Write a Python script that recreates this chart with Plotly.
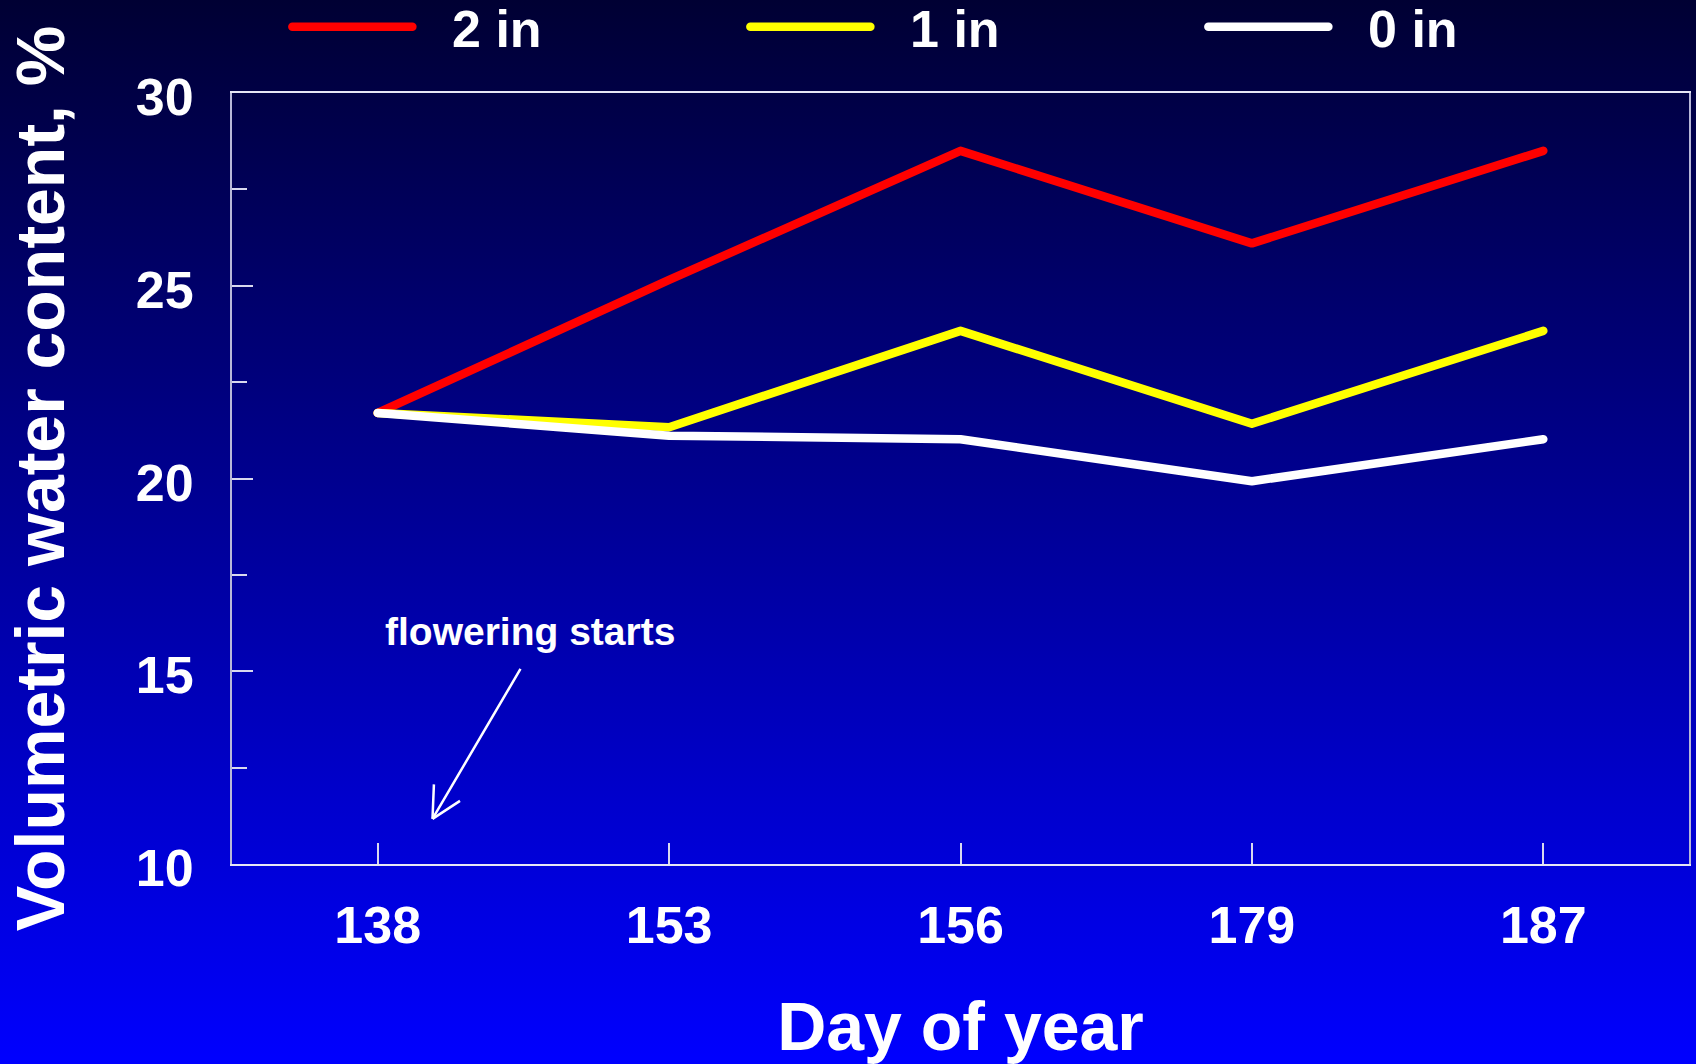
import base64
import plotly.graph_objects as go

# ---- data ----
days = ["138", "153", "156", "179", "187"]
vwc_2in = [21.7, 25.15, 28.5, 26.1, 28.5]
vwc_1in = [21.7, 21.33, 23.83, 21.42, 23.83]
vwc_0in = [21.7, 21.11, 21.02, 19.93, 21.02]
series_names = ["2 in", "1 in", "0 in"]
series_colors = ["#FF0000", "#FFFF00", "#FFFFFF"]

W, H = 1696, 1064
ML, MR, MT, MB = 232, 7, 93, 200
PW, PH = W - ML - MR, H - MT - MB

FONT = "Liberation Sans, Arial, Helvetica, sans-serif"

fig = go.Figure()
for name, vals, col in zip(series_names, [vwc_2in, vwc_1in, vwc_0in], series_colors):
    fig.add_trace(go.Scatter(
        x=days, y=vals, name="\u2002\u2006" + name, mode="lines",
        line=dict(color=col, width=8.5),
    ))

# gradient background as an SVG image
svg = (
    f'<svg xmlns="http://www.w3.org/2000/svg" width="{W}" height="{H}" preserveAspectRatio="none">'
    '<defs><linearGradient id="g" x1="0" y1="0" x2="0" y2="1">'
    '<stop offset="0" stop-color="#000033"/><stop offset="1" stop-color="#0000FF"/>'
    '</linearGradient></defs>'
    f'<rect width="{W}" height="{H}" fill="url(#g)"/></svg>'
)
src = "data:image/svg+xml;base64," + base64.b64encode(svg.encode()).decode()
fig.add_layout_image(dict(
    source=src, xref="paper", yref="paper",
    x=-ML / PW, y=1 + MT / PH, sizex=W / PW, sizey=H / PH,
    xanchor="left", yanchor="top", sizing="stretch", layer="below",
))

axis_font = dict(family=FONT, size=52, color="white", weight="bold")
title_font = dict(family=FONT, size=68, color="white", weight="bold")

fig.update_xaxes(
    type="category", range=[-0.5, 4.5],
    showgrid=False, zeroline=False,
    showline=True, mirror=True, linecolor="#E6E6F5", linewidth=2,
    ticks="inside", ticklen=21, tickwidth=1.5, tickcolor="#D8D8EE",
    tickfont=axis_font, ticklabelstandoff=15,
    title=dict(text="Day of year", font=title_font, standoff=49),
)
fig.update_yaxes(
    range=[10, 30], dtick=5,
    showgrid=False, zeroline=False,
    showline=True, mirror=True, linecolor="#B8B8D8", linewidth=2,
    ticks="inside", ticklen=21, tickwidth=1.5, tickcolor="#D8D8EE",
    minor=dict(dtick=2.5, ticks="inside", ticklen=15, tickwidth=1.5, tickcolor="#D8D8EE"),
    tickfont=axis_font, ticklabelstandoff=26, ticklabelshift=4,
    title=dict(text="Volumetric water content, %", font=title_font, standoff=49),
)

# "flowering starts" label and open arrow
fig.add_annotation(
    x=0.188, y=11.17, ax=0.493, ay=15.1, xref="x", yref="y", axref="x", ayref="y",
    text="", showarrow=True, arrowhead=0, arrowwidth=2.5, arrowcolor="white", standoff=0,
)
for dx, dy in [(29, -19), (1.5, -36)]:
    fig.add_annotation(
        x=0.188, y=11.17, ax=dx, ay=dy, xref="x", yref="y",
        text="", showarrow=True, arrowhead=0, arrowwidth=2.5, arrowcolor="white", standoff=0,
    )
fig.add_annotation(
    x=0.521, y=16.02, xref="x", yref="y", text="flowering starts", showarrow=False,
    font=dict(family=FONT, size=39, color="white", weight="bold"),
)

fig.update_layout(
    width=W, height=H,
    margin=dict(l=ML, r=MR, t=MT, b=MB, autoexpand=False),
    paper_bgcolor="#000033", plot_bgcolor="rgba(0,0,0,0)",
    font=dict(family=FONT, color="white"),
    showlegend=True,
    legend=dict(
        orientation="h", x=0.038, xanchor="left", y=1 + (MT - 27) / PH, yanchor="middle",
        font=dict(family=FONT, size=52, color="white", weight="bold"),
        bgcolor="rgba(0,0,0,0)", itemwidth=120, entrywidth=323, entrywidthmode="pixels",
    ),
)

post = (
    "document.body.style.margin='0';"
    "document.documentElement.style.background='#000033';"
    "var s=document.createElement('style');"
    "s.textContent='.js-line{stroke-linecap:round;stroke-linejoin:round;}';"
    "document.head.appendChild(s);"
)
fig.write_html("out.html", post_script=post, config={"displayModeBar": False})
